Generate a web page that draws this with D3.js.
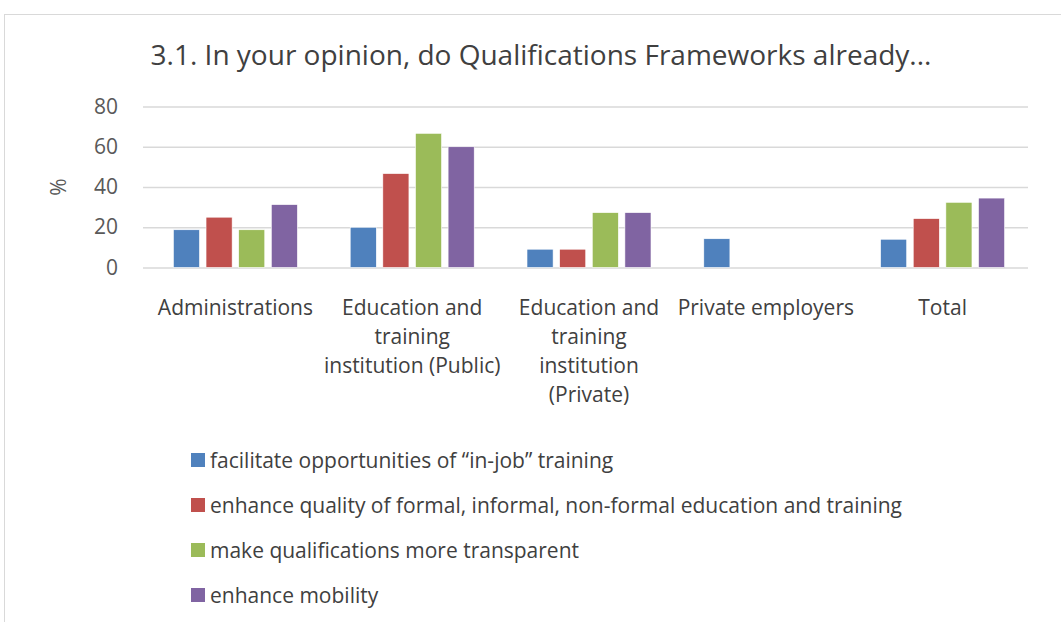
<!DOCTYPE html>
<html><head><meta charset="utf-8">
<script src="https://cdn.jsdelivr.net/npm/d3@7"></script>
<style>
html,body{margin:0;padding:0;background:#fff;}
svg{display:block;font-family:"Open Sans",sans-serif;}
</style></head>
<body><svg id="c" width="1061" height="622"></svg>
<script>
(function(){
const categories = ["Administrations","Education and training institution (Public)","Education and training institution (Private)","Private employers","Total"];
const categoryLines = [["Administrations"],["Education and","training","institution (Public)"],["Education and","training","institution","(Private)"],["Private employers"],["Total"]];
const seriesNames = ["facilitate opportunities of \u201cin-job\u201d training","enhance quality of formal, informal, non-formal education and training","make qualifications more transparent","enhance mobility"];
const inJob = [18.75, 20, 9.09, 14.29, 14.04];
const quality = [25, 46.67, 9.09, 0, 24.3];
const transparent = [18.75, 66.67, 27.27, 0, 32.4];
const mobility = [31.25, 60, 27.27, 0, 34.5];
const yTicks = [0, 20, 40, 60, 80];
const colors = ["#4F81BD","#C0504D","#9BBB59","#8064A2"];
const seriesValues = [inJob, quality, transparent, mobility];

const svg = d3.select("#c");
svg.append("rect").attr("x",4.5).attr("y",14.5).attr("width",1070).attr("height",620)
  .attr("fill","none").attr("stroke","#D9D9D9").attr("stroke-width",1);

const pL = 143, pR = 1028, pT = 106.5, pB = 267.5;
const x0 = d3.scaleBand().domain(categories).range([147, 1031]).paddingInner(0).paddingOuter(0);
const groupW = 124;
const x1 = d3.scaleBand().domain(seriesNames).range([0, groupW]).paddingInner(0.2).paddingOuter(0);
const y = d3.scaleLinear().domain([0, 80]).range([pB, pT]);

svg.append("text").attr("x",541).attr("y",64.5).attr("text-anchor","middle")
  .attr("font-size",28).attr("fill","#404040").text("3.1. In your opinion, do Qualifications Frameworks already...");

const yAxis = d3.axisLeft(y).tickValues(yTicks).tickSize(-(pR-pL)).tickPadding(25);
const gy = svg.append("g").attr("transform",`translate(${pL},0)`).call(yAxis);
gy.select(".domain").remove();
gy.selectAll(".tick line").attr("stroke","#D9D9D9").attr("stroke-width",1.3);
gy.selectAll(".tick text").attr("font-size",21).attr("fill","#595959").attr("font-family","Open Sans, sans-serif");

svg.append("text").attr("transform","translate(66,187) rotate(-90)").attr("text-anchor","middle")
  .attr("font-size",21).attr("fill","#595959").text("%");

const groups = svg.append("g").selectAll("g").data(categories).join("g")
  .attr("transform", d => `translate(${x0(d) + (x0.bandwidth()-groupW)/2},0)`);
groups.selectAll("rect").data((d,i) => seriesNames.map((s,j) => ({s, j, v: seriesValues[j][i]})))
  .join("rect")
  .attr("x", d => x1(d.s)).attr("width", x1.bandwidth())
  .attr("y", d => y(d.v)).attr("height", d => y(0) - y(d.v))
  .attr("fill", d => colors[d.j]).attr("stroke","#fff").attr("stroke-width", d => d.v > 0 ? 0.6 : 0);

const xAxis = d3.axisBottom(x0).tickSize(0).tickFormat(() => "");
const gx = svg.append("g").attr("transform",`translate(0,${pB})`).call(xAxis);
gx.select(".domain").remove();
gx.selectAll(".tick").each(function(d,i){
  const t = d3.select(this).append("text").attr("text-anchor","middle").attr("fill","#404040")
    .attr("font-size",21).attr("font-family","Open Sans, sans-serif");
  categoryLines[i].forEach((ln,k) => t.append("tspan").attr("x",0).attr("y",47.5 + k*29).text(ln));
});

const lg = svg.append("g").selectAll("g").data(seriesNames).join("g")
  .attr("transform",(d,i) => `translate(191,${468 + i*45})`);
lg.append("rect").attr("x",0).attr("y",-15).attr("width",14).attr("height",14).attr("fill",(d,i)=>colors[i]);
lg.append("text").attr("x",19).attr("y",0).attr("font-size",21).attr("fill","#404040").text(d=>d);
})();
</script></body></html>
